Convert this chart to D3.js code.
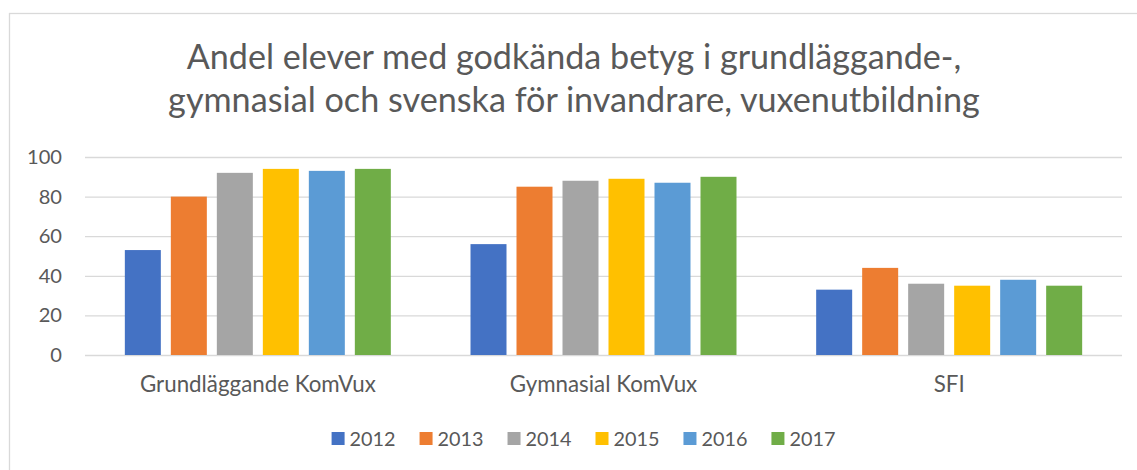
<!DOCTYPE html>
<html><head><meta charset="utf-8">
<script src="https://cdn.jsdelivr.net/npm/d3@7"></script>
<style>
body{margin:0;background:#fff}
text{font-family:Lato,"Open Sans",sans-serif;fill:#595959}
</style>
</head><body>
<svg id="c" width="1137" height="470"></svg>
<script>
const categories = ["Grundläggande KomVux", "Gymnasial KomVux", "SFI"];
const years = ["2012", "2013", "2014", "2015", "2016", "2017"];
const v2012 = [53, 56, 33];
const v2013 = [80, 85, 44];
const v2014 = [92, 88, 36];
const v2015 = [94, 89, 35];
const v2016 = [93, 87, 38];
const v2017 = [94, 90, 35];
const yTicks = [0, 20, 40, 60, 80, 100];
const titleLines = ["Andel elever med godkända betyg i grundläggande-,", "gymnasial och svenska för invandrare, vuxenutbildning"];
const colors = ["#4472C4", "#ED7D31", "#A5A5A5", "#FFC000", "#5B9BD5", "#70AD47"];

const series = [v2012, v2013, v2014, v2015, v2016, v2017];
const svg = d3.select("#c");

// chart border
svg.append("rect").attr("x", 9.5).attr("y", 13.5).attr("width", 1200).attr("height", 500)
  .attr("fill", "none").attr("stroke", "#d9d9d9").attr("stroke-width", 1.3);

function fit(sel, target) {
  const w = sel.node().getComputedTextLength();
  const fs = parseFloat(sel.attr("font-size"));
  sel.attr("font-size", fs * target / w);
}

// title
const tW = [775, 812], tY = [69, 112];
titleLines.forEach((t, i) => {
  const s = svg.append("text").attr("x", 574).attr("y", tY[i]).attr("text-anchor", "middle")
    .attr("font-size", 30).text(t);
  fit(s, tW[i]);
});

const m = {left: 85, right: 1122, top: 157, bottom: 355};
const x0 = d3.scaleBand().domain(categories).range([m.left, m.right]).padding(0);
const x1 = d3.scaleBand().domain(years).range([0, x0.bandwidth()]).paddingInner(10 / 46).paddingOuter(0.866);
const y = d3.scaleLinear().domain([0, 100]).range([m.bottom, m.top]);

// y axis with gridlines
const gy = svg.append("g").attr("transform", `translate(${m.left},0)`)
  .call(d3.axisLeft(y).tickValues(yTicks).tickSize(-(m.right - m.left)).tickPadding(23));
gy.select(".domain").remove();
gy.selectAll("line").attr("stroke", "#d9d9d9").attr("stroke-width", 1.3);
gy.selectAll("text").attr("font-size", 20).attr("fill", "#595959").attr("font-family", "Lato");
const t100 = gy.selectAll("text").filter(d => d === 100);
const w100 = t100.node().getComputedTextLength();
gy.selectAll("text").attr("font-size", 20 * 35 / w100);

// bars
const groups = svg.append("g").selectAll("g").data(categories).join("g")
  .attr("transform", d => `translate(${x0(d)},0)`);
groups.selectAll("rect").data((c, ci) => years.map((yr, si) => ({yr, si, v: series[si][ci]})))
  .join("rect")
  .attr("x", d => x1(d.yr))
  .attr("width", x1.bandwidth())
  .attr("y", d => y(d.v))
  .attr("height", d => y(0) - y(d.v))
  .attr("fill", d => colors[d.si]);

// x axis labels
const gx = svg.append("g").attr("transform", `translate(0,${m.bottom})`)
  .call(d3.axisBottom(x0).tickSize(0).tickPadding(0));
gx.select(".domain").remove();
const cl = gx.selectAll("text").attr("font-family", "Lato").attr("fill", "#595959")
  .attr("font-size", 20).attr("dy", null).attr("y", 37);
const gl = cl.filter(d => d === categories[0]);
const wg = gl.node().getComputedTextLength();
cl.attr("font-size", 20 * 236 / wg);

// legend
const leg = svg.append("g");
const items = leg.selectAll("g").data(years).join("g");
items.append("rect").attr("width", 13).attr("height", 13).attr("y", 432).attr("fill", (d, i) => colors[i]);
const lt = items.append("text").attr("x", 18).attr("y", 446).attr("font-size", 20).text(d => d);
const wl = lt.node().getComputedTextLength();
lt.attr("font-size", 20 * 46 / wl);
let widths = [];
lt.each(function() { widths.push(18 + this.getComputedTextLength()); });
const gap = 24;
const total = d3.sum(widths) + gap * (widths.length - 1);
let cx = 583.5 - total / 2;
items.each(function(d, i) {
  d3.select(this).attr("transform", `translate(${cx},0)`);
  cx += widths[i] + gap;
});
</script>
</body></html>
